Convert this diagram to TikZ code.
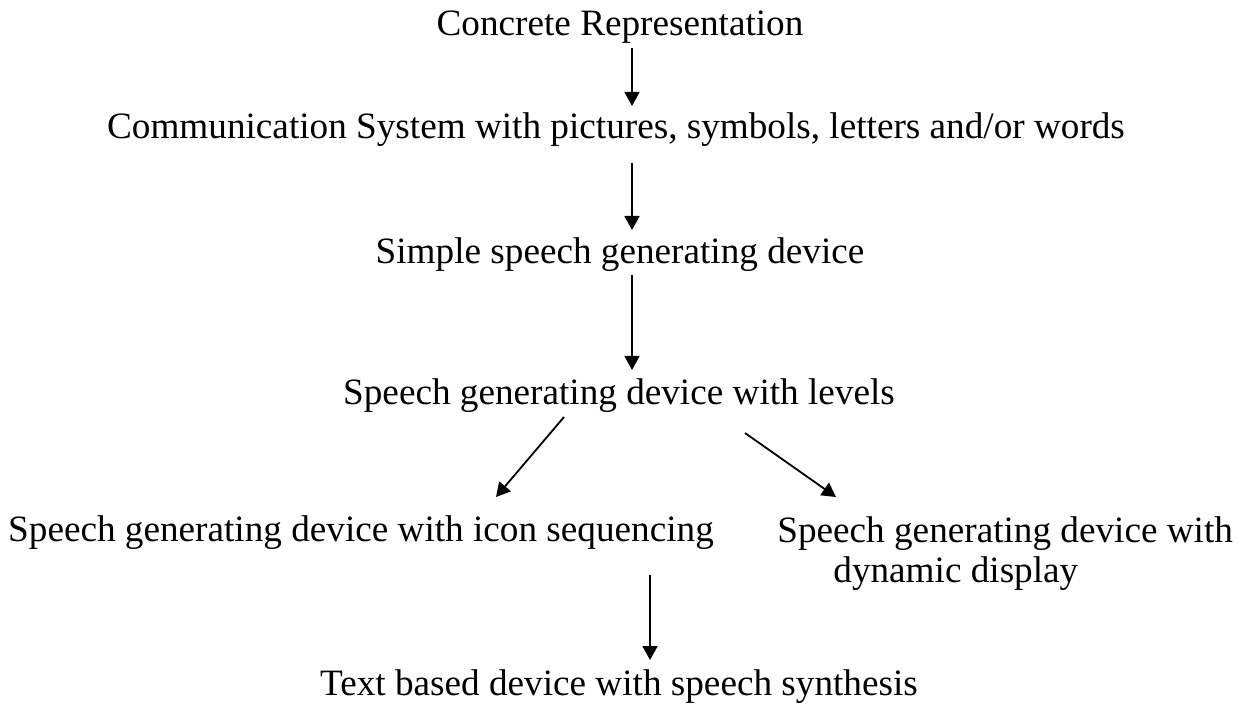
\documentclass[tikz,border=0pt]{standalone}
\usepackage{fontspec}
\setmainfont{Liberation Serif}
\usetikzlibrary{arrows.meta,calc}

\begin{document}
\begin{tikzpicture}
[x=0.5pt,y=-0.5pt, %
lineDecorateout/.style={-{Triangle[width=7.5pt,length=7pt]},line width=0.9pt}, %
device/.style={inner sep=0pt,anchor=base,font=\fontsize{18.6pt}{20pt}\selectfont}]

\useasboundingbox (0,0) rectangle (1246,704);

%% nodes or vertices
\foreach \nodename/\x/\y/\txt in {
concrete/620/36/{Concrete Representation},
communication/616/139/{Communication System with pictures, symbols, letters and/or words},
simple/620/264/{Simple speech generating device},
levels/619/405/{Speech generating device with levels},
icon/361/542/{Speech generating device with icon sequencing},
textbased/619/695/{Text based device with speech synthesis}}
{
\node (\nodename) at (\x,\y) [device] {\txt};
}
\node (dynamic) at (777,582) [device,anchor=base west,align=left] {Speech generating device with\\\hspace*{28pt}dynamic display};

%% edges or lines
\path
($(concrete.base)+(12,12)$) edge[lineDecorateout] ($(communication.base)+(16,-33)$)
($(communication.base)+(16,24)$) edge[lineDecorateout] ($(simple.base)+(12,-34)$)
($(simple.base)+(12,11)$) edge[lineDecorateout] ($(levels.base)+(13,-35)$)
($(levels.base)+(-55,12)$) edge[lineDecorateout] ($(icon.base)+(135,-45)$)
($(levels.base)+(126,28)$) edge[lineDecorateout] ($(dynamic.base west)+(59,-85)$)
($(icon.base)+(289,33)$) edge[lineDecorateout] ($(textbased.base)+(31,-35)$);

\end{tikzpicture}
\end{document}
